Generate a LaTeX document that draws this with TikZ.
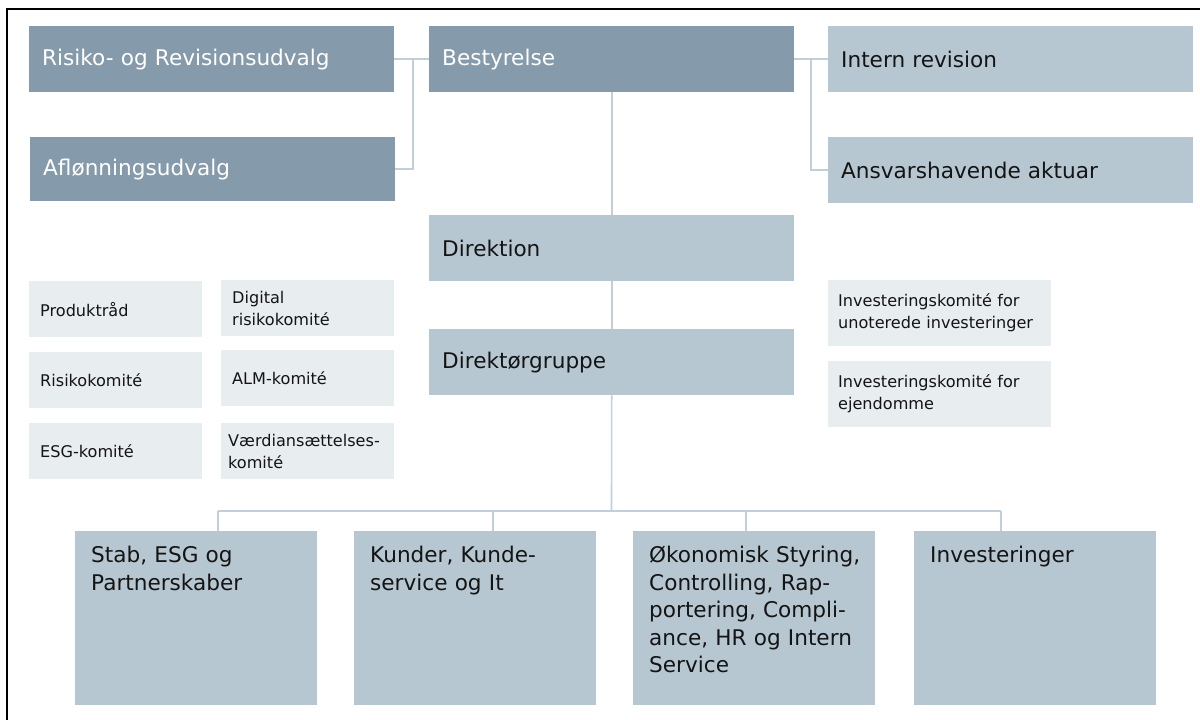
\documentclass[tikz,border=0pt]{standalone}
\usepackage{fontspec}
\setmainfont{DejaVu Sans}
\definecolor{darkbox}{RGB}{133,154,170}
\definecolor{lightbox}{RGB}{183,199,209}
\definecolor{palebox}{RGB}{232,237,240}
\definecolor{connc}{RGB}{192,207,218}
\definecolor{txt}{RGB}{20,20,20}
\begin{document}
\begin{tikzpicture}[x=1pt,y=-1pt,
  boxbase/.style={anchor=north west, inner ysep=0pt, align=left},
  bigfont/.style={font=\fontsize{21.6}{27.5}\selectfont},
  smallfont/.style={font=\fontsize{16.1}{22}\selectfont},
  topbox/.style={boxbase, bigfont, inner xsep=13pt, minimum width=365pt, text width=339pt, minimum height=66pt},
  topdark/.style={topbox, fill=darkbox, text=white},
  toplight/.style={topbox, fill=lightbox, text=txt},
  smallbox/.style={boxbase, smallfont, fill=palebox, text=txt, inner xsep=11pt, minimum width=173pt, text width=151pt, minimum height=56pt},
  invbox/.style={boxbase, smallfont, fill=palebox, text=txt, inner xsep=10pt, minimum width=223pt, text width=203pt, minimum height=66pt},
  bottombox/.style={anchor=north west, inner sep=0pt, fill=lightbox, minimum width=242pt, minimum height=174pt},
  bottomtext/.style={anchor=north west, inner sep=0pt, xshift=16pt, yshift=-15pt, bigfont, text=txt, text width=224pt, align=left},
  conn/.style={draw=connc, line width=1.6pt},
  frame/.style={draw=black, line width=1.4pt}
]
\useasboundingbox (0,0) rectangle (1200,720);
\draw[frame] (7,720) -- (7,9) -- (1200,9);

% top row
\node[topdark] (risiko) at (29,26) {Risiko- og Revisionsudvalg};
\node[topdark, minimum height=64pt] (afl) at (30,137) {Aflønningsudvalg};
\node[topdark] (best) at (429,26) {Bestyrelse};
\node[toplight] (intern) at (828,26) {Intern revision};
\node[toplight] (aktuar) at (828,137) {Ansvarshavende aktuar};

% middle
\node[toplight] (dir) at (429,215) {Direktion};
\node[toplight] (dg) at (429,329) {Direktørgruppe};

% small committees left
\node[smallbox] (prod) at (29,281) {Produktråd};
\node[smallbox] (digi) at (221,280) {Digital\\risikokomité};
\node[smallbox] (risk) at (29,352) {Risikokomité};
\node[smallbox] (alm) at (221,350) {ALM-komité};
\node[smallbox] (esg) at (29,423) {ESG-komité};
\node[smallbox, inner xsep=7pt, text width=159pt] (vaerd) at (221,423) {Værdiansættelses-\\komité};

% investment committees right
\node[invbox] (inv1) at (828,280) {Investeringskomité for\\unoterede investeringer};
\node[invbox] (inv2) at (828,361) {Investeringskomité for\\ejendomme};

% bottom row
\node[bottombox, label={[bottomtext]north west:{Stab, ESG og\\Partnerskaber}}] (b1) at (75,531) {};
\node[bottombox, label={[bottomtext]north west:{Kunder, Kunde-\\service og It}}] (b2) at (354,531) {};
\node[bottombox, label={[bottomtext]north west:{Økonomisk Styring,\\Controlling, Rap-\\portering, Compli-\\ance, HR og Intern\\Service}}] (b3) at (633,531) {};
\node[bottombox, label={[bottomtext]north west:{Investeringer}}] (b4) at (914,531) {};

% connectors
\coordinate (jl) at (413,59);
\coordinate (jr) at (811,59);
\draw[conn] (risiko.east) -- (best.west);
\draw[conn] (jl) |- (afl.east);
\draw[conn] (best.east) -- (intern.west);
\draw[conn] (jr) |- (aktuar.west);
\draw[conn] (best.south) -- (dir.north);
\draw[conn] (dir.south) -- (dg.north);
\coordinate (bus) at (611.5,511);
\coordinate (d1) at (218,511);
\coordinate (d2) at (493,511);
\coordinate (d3) at (746,511);
\coordinate (d4) at (1001,511);
\draw[conn] (dg.south) -- (bus);
\draw[conn] (d1) -- (d4);
\draw[conn] (d1) -- (d1 |- b1.north);
\draw[conn] (d2) -- (d2 |- b2.north);
\draw[conn] (d3) -- (d3 |- b3.north);
\draw[conn] (d4) -- (d4 |- b4.north);
\end{tikzpicture}
\end{document}
